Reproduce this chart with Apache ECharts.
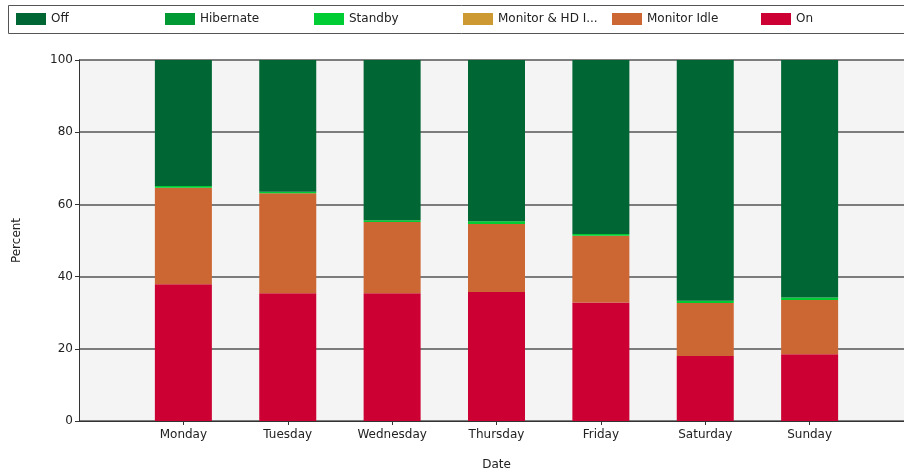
<!DOCTYPE html>
<html><head><meta charset="utf-8">
<script src="https://cdn.jsdelivr.net/npm/echarts@6/dist/echarts.min.js"></script>
<style>html,body{margin:0;padding:0;background:#fff;overflow:hidden}#c{width:914px;height:473px}</style>
</head><body><div id="c"></div>
<script>
var categories = ['', 'Monday', 'Tuesday', 'Wednesday', 'Thursday', 'Friday', 'Saturday', 'Sunday', ''];
var onVals       = [null, 37.9, 35.4, 35.4, 35.7, 32.8, 18.0, 18.5, null];
var monitorIdle  = [null, 26.7, 27.7, 19.7, 18.9, 18.5, 14.7, 15.0, null];
var monitorHdIdle= [null, 0, 0, 0, 0, 0, 0, 0, null];
var standby      = [null, 0.5, 0.4, 0.5, 0.7, 0.5, 0.6, 0.7, null];
var hibernate    = [null, 0, 0, 0, 0, 0, 0, 0, null];
var offVals      = [null, 34.9, 36.5, 44.4, 44.7, 48.2, 66.7, 65.8, null];
var yTicks = [0, 20, 40, 60, 80, 100];

var names = ['Off', 'Hibernate', 'Standby', 'Monitor & HD Idle', 'Monitor Idle', 'On'];
var colors = ['#006633', '#009933', '#00cc33', '#cc9933', '#cc6633', '#cc0033'];
var dataByName = {
  'On': onVals, 'Monitor Idle': monitorIdle, 'Monitor & HD Idle': monitorHdIdle,
  'Standby': standby, 'Hibernate': hibernate, 'Off': offVals
};
var stackOrder = ['On', 'Monitor Idle', 'Monitor & HD Idle', 'Standby', 'Hibernate', 'Off'];
var font = 'DejaVu Sans';

var series = stackOrder.map(function (n) {
  return {
    name: n, type: 'bar', stack: 'all', barWidth: 57,
    data: dataByName[n],
    itemStyle: { color: colors[names.indexOf(n)] },
    emphasis: { disabled: true }
  };
});

var legends = names.map(function (n, i) {
  return {
    data: [n], left: 16 + i * 149, top: 13, itemWidth: 30, itemHeight: 12, itemGap: 0,
    icon: 'rect', selectedMode: false, padding: 0,
    formatter: function (name) { return name.length > 14 ? name.slice(0, 14) + '...' : name; },
    textStyle: { fontFamily: font, fontSize: 12, color: '#222', padding: [0, 0, 0, 0] }
  };
});

var chart = echarts.init(document.getElementById('c'), null, { renderer: 'canvas' });
chart.setOption({
  animation: false,
  textStyle: { fontFamily: font },
  graphic: [{
    type: 'rect', left: 8, top: 5, z: -1,
    shape: { width: 920, height: 28 },
    style: { fill: '#fff', stroke: '#555', lineWidth: 1 }
  }],
  legend: legends,
  grid: { left: 79, right: 0, top: 60, bottom: 52, containLabel: false, outerBoundsMode: 'none',
    show: true, backgroundColor: '#f4f4f4', borderWidth: 0 },
  xAxis: {
    type: 'category', data: categories, boundaryGap: false,
    name: 'Date', nameLocation: 'middle', nameGap: 38,
    nameTextStyle: { fontFamily: font, fontSize: 12, color: '#222' },
    axisLine: { lineStyle: { color: '#333', width: 1 } },
    axisTick: { length: 4, lineStyle: { color: '#333' },
      interval: function (i, v) { return v !== ''; } },
    axisLabel: { fontFamily: font, fontSize: 12, color: '#222', margin: 8,
      interval: function (i, v) { return v !== ''; } },
    splitLine: { show: false }
  },
  yAxis: {
    type: 'value', min: 0, max: 100, interval: 20,
    name: 'Percent', nameLocation: 'middle', nameGap: 56,
    nameTextStyle: { fontFamily: font, fontSize: 12, color: '#222' },
    axisLine: { show: true, lineStyle: { color: '#333', width: 1 } },
    axisTick: { show: true, length: 4, lineStyle: { color: '#333' } },
    axisLabel: { fontFamily: font, fontSize: 12, color: '#222', margin: 6,
      formatter: function (v) { return yTicks.indexOf(v) >= 0 ? String(v) : ''; } },
    splitLine: { show: true, lineStyle: { color: '#555', width: 1.5 } }
  },
  series: series
});
</script></body></html>
